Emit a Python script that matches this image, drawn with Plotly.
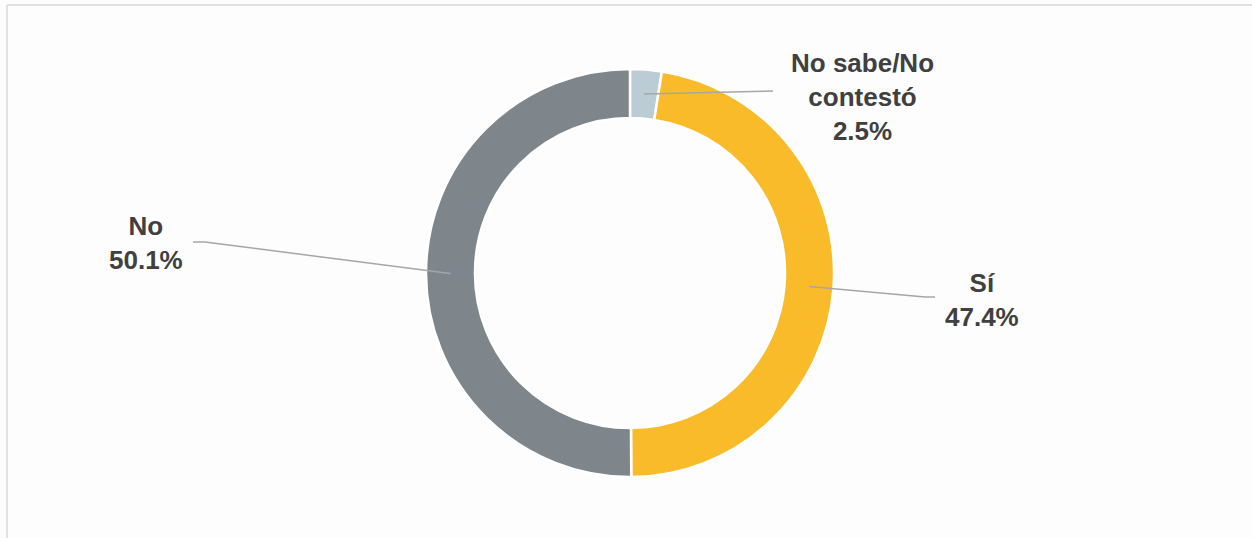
import math
import plotly.graph_objects as go

W, H = 1252, 538

labels = ["No sabe/No contestó", "Sí", "No"]
label_text = ["No sabe/No<br>contestó", "Sí", "No"]
values = [2.5, 47.4, 50.1]
colors = ["#BCCCD4", "#F9BB29", "#7E868C"]

# layout (pixels)
cx, cy, R = 630, 273, 204
hole = 0.76
# label anchor centres and leader-line elbows (pixels)
label_pos = [(862, 97), (982, 300), (146, 243)]
elbow = [(773, 91), (925, 297), (205, 242)]
line_end = [(773, 91), (935, 297), (193, 242)]

def px(x):
    return x / W

def py(y):
    return 1 - y / H

fig = go.Figure(go.Pie(
    labels=labels, values=values, hole=hole, sort=False, direction="clockwise",
    rotation=0, marker=dict(colors=colors, line=dict(color="white", width=2.5)),
    textinfo="none", hoverinfo="label+percent", showlegend=False,
    domain=dict(x=[px(cx - R), px(cx + R)], y=[py(cy + R), py(cy - R)]),
))

shapes = []
annotations = []
total = sum(values)
cum = 0.0
rmid = R * (1 + hole) / 2
for i, v in enumerate(values):
    mid = (cum + v / 2) / total * 2 * math.pi
    cum += v
    sx = cx + rmid * math.sin(mid)
    sy = cy - rmid * math.cos(mid)
    ex, ey = elbow[i]
    fx, fy = line_end[i]
    path = f"M {px(sx)} {py(sy)} L {px(ex)} {py(ey)} L {px(fx)} {py(fy)}"
    shapes.append(dict(type="path", xref="paper", yref="paper", path=path,
                       line=dict(color="#A6A6A6", width=1.5)))
    lx, ly = label_pos[i]
    annotations.append(dict(
        x=px(lx), y=py(ly), xref="paper", yref="paper", showarrow=False,
        text=f"<b>{label_text[i]}<br>{v:.1f}%</b>", align="center",
        xanchor="center", yanchor="middle",
        font=dict(family="Liberation Sans, Arial", size=26, color="#404040"),
    ))

# outer frame of chart area (top and left edges visible)
shapes.append(dict(type="line", xref="paper", yref="paper",
                   x0=px(7), y0=py(5), x1=1.01, y1=py(5),
                   line=dict(color="#D9D9D9", width=1.5)))
shapes.append(dict(type="line", xref="paper", yref="paper",
                   x0=px(7), y0=py(5), x1=px(7), y1=-0.01,
                   line=dict(color="#D9D9D9", width=1.5)))

fig.update_layout(
    width=W, height=H, margin=dict(l=0, r=0, t=0, b=0),
    paper_bgcolor="#FDFDFD", plot_bgcolor="#FDFDFD",
    shapes=shapes, annotations=annotations,
)

fig.write_html("out.html", config={"displayModeBar": False},
               post_script="document.body.style.margin='0';document.body.style.overflow='hidden';")
